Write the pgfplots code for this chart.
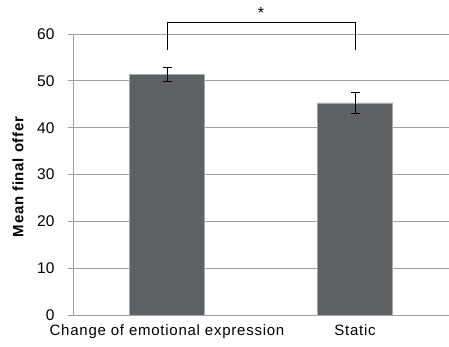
\documentclass[border=0pt]{standalone}
\usepackage{pgfplots}
\pgfplotsset{compat=1.18}
\usepackage{fontspec}
\setmainfont{Liberation Sans}
\definecolor{barfill}{HTML}{5F6064}
\definecolor{baredge}{HTML}{A8A8A8}
\definecolor{gridc}{HTML}{A0A0A0}
\begin{document}
\begin{tikzpicture}
\begin{axis}[
  scale only axis,
  width=376pt, height=281pt,
  xmin=-0.5, xmax=1.5,
  ymin=0, ymax=60,
  ytick={0,10,...,60},
  xtick={0,1},
  xticklabels={Change of emotional expression, Static},
  extra x ticks={-0.5,0.5,1.5},
  extra x tick labels={},
  extra x tick style={major tick length=5pt, tick style={gridc, line width=0.8pt}, grid=none},
  x tick style={draw=none},
  major tick length=5pt,
  tick align=outside,
  y tick style={gridc, line width=0.8pt},
  ymajorgrids,
  grid style={gridc, line width=0.8pt},
  axis x line*=bottom,
  axis y line*=left,
  axis line style={gridc, line width=0.8pt, -},
  yticklabel style={font=\fontsize{15.5}{17}\selectfont, black, xshift=-10pt},
  xticklabel style={font=\fontsize{15}{17}\selectfont\addfontfeature{LetterSpace=5}, black, yshift=-1pt},
  /pgf/number format/assume math mode=true,
  ylabel={\textbf{Mean final offer}},
  ylabel style={font=\fontsize{15}{17}\selectfont\addfontfeature{LetterSpace=5}, at={(axis description cs:0,0.5)}, anchor=center, yshift=55pt, xshift=-2pt},
  clip=false,
]
\addplot[ybar, bar width=75pt, fill=barfill, draw=baredge, line width=0.6pt,
  error bars/.cd, y dir=both, y explicit,
  error bar style={black, line width=0.9pt},
  error mark options={black, line width=0.9pt, mark size=4.5pt, rotate=90}]
  coordinates {(0,51.3) +- (0,1.5) (1,45.3) +- (0,2.2)};
\draw[black, line width=1pt] (axis cs:0,56.6) -- (axis cs:0,62.4) -- (axis cs:1,62.4) -- (axis cs:1,56.6);
\node[font=\fontsize{16}{17}\selectfont] at (axis cs:0.5,64.4) {*};
\coordinate (sw) at (rel axis cs:0,0);
\coordinate (ne) at (rel axis cs:1,1);
\end{axis}
\pgfresetboundingbox
\path ([shift={(-73pt,-32pt)}]sw) rectangle ([shift={(0pt,34pt)}]ne);
\end{tikzpicture}
\end{document}
